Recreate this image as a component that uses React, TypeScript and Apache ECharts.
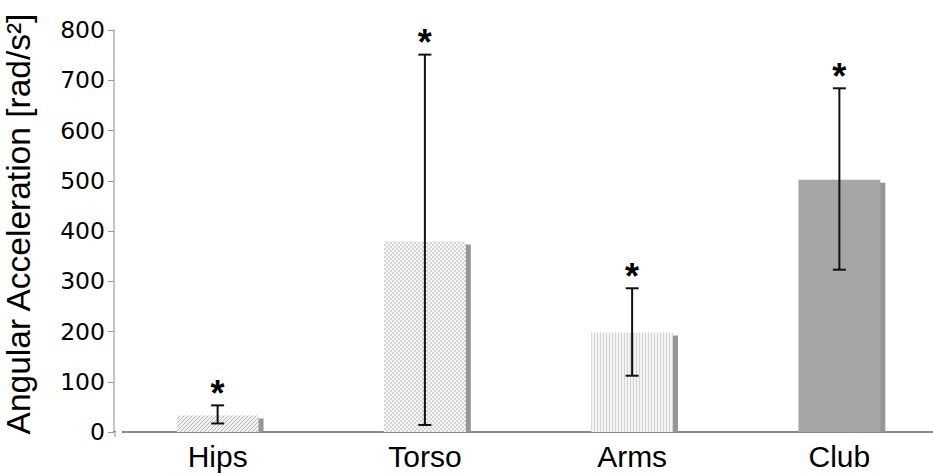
import React, { useEffect, useRef } from 'react';
import * as echarts from 'echarts';

const categories = ['Hips', 'Torso', 'Arms', 'Club'];
const meanValues = [33, 379, 198, 502];
const errorLow = [17, 14, 112, 323];
const errorHigh = [53, 751, 286, 684];
const significance = ['*', '*', '*', '*'];
const fillKinds = ['diagonal', 'checker', 'vertical', 'solid'];
const yMin = 0;
const yMax = 800;
const yInterval = 100;

function makePattern(kind: string): any {
  if (kind === 'solid') return '#a6a6a6';
  const c = document.createElement('canvas');
  if (kind === 'diagonal') {
    c.width = 4; c.height = 4;
    const g = c.getContext('2d')!;
    g.fillStyle = '#f1f1f1'; g.fillRect(0, 0, 4, 4);
    g.fillStyle = '#b8b8b8';
    for (let i = 0; i < 4; i++) g.fillRect(i, 3 - i, 1, 1);
  } else if (kind === 'checker') {
    c.width = 4; c.height = 4;
    const g = c.getContext('2d')!;
    g.fillStyle = '#f7f7f7'; g.fillRect(0, 0, 4, 4);
    g.fillStyle = '#d6d6d6';
    g.fillRect(0, 0, 2, 2); g.fillRect(2, 2, 2, 2);
  } else {
    c.width = 3; c.height = 3;
    const g = c.getContext('2d')!;
    g.fillStyle = '#f3f3f3'; g.fillRect(0, 0, 3, 3);
    g.fillStyle = '#d4d4d4'; g.fillRect(0, 0, 1, 3);
  }
  return { image: c, repeat: 'repeat', imageWidth: c.width, imageHeight: c.height };
}

export default function App() {
  const ref = useRef<HTMLDivElement>(null);
  useEffect(() => {
    const chart = echarts.init(ref.current!, null, { renderer: 'svg' });
    const fills = fillKinds.map(makePattern);
    const data = categories.map((c, i) => [i, meanValues[i], errorLow[i], errorHigh[i]]);
    chart.setOption({
      animation: false,
      backgroundColor: '#fff',
      grid: { left: 114, right: -10, top: 30, bottom: 42, containLabel: false, outerBoundsMode: 'none' },
      xAxis: {
        type: 'category',
        data: categories,
        axisLine: { show: true, lineStyle: { color: '#8a8a8a', width: 2 } },
        axisTick: { show: false },
        axisLabel: { fontFamily: 'Liberation Sans', fontSize: 30, color: '#000', margin: 9 },
        splitLine: { show: false },
      },
      yAxis: {
        type: 'value',
        min: yMin,
        max: yMax,
        interval: yInterval,
        name: 'Angular Acceleration [rad/s²]',
        nameLocation: 'middle',
        nameRotate: 90,
        nameGap: 79,
        nameTextStyle: { fontFamily: 'Liberation Sans', fontSize: 33.5, color: '#000', padding: [0, 0, 0, 14] },
        axisLine: { show: true, lineStyle: { color: '#c4c4c4', width: 2 } },
        axisTick: { show: true, length: 6, lineStyle: { color: '#999', width: 1 } },
        axisLabel: { fontFamily: 'DejaVu Sans', fontSize: 23.5, color: '#000', margin: 9 },
        splitLine: { show: false },
      },
      series: [
        {
          type: 'custom',
          clip: false,
          data,
          renderItem: (params: any, api: any) => {
            const idx = api.value(0);
            const mean = api.value(1);
            const lo = api.value(2);
            const hi = api.value(3);
            const base = api.coord([idx, 0]);
            const top = api.coord([idx, mean]);
            const pHi = api.coord([idx, hi]);
            const pLo = api.coord([idx, lo]);
            const band = api.size([1, 0])[0];
            const w = band * 0.395;
            const x0 = base[0] - w / 2;
            const h = base[1] - top[1];
            const cap = 6.5;
            return {
              type: 'group',
              children: [
                { type: 'rect', shape: { x: x0 + 5, y: top[1] + 3, width: w, height: h - 3 }, style: { fill: '#959595' } },
                { type: 'rect', shape: { x: x0, y: top[1], width: w, height: h }, style: { fill: fills[idx] } },
                { type: 'line', shape: { x1: pHi[0], y1: pHi[1], x2: pLo[0], y2: pLo[1] }, style: { stroke: '#111', lineWidth: 2 } },
                { type: 'line', shape: { x1: pHi[0] - cap, y1: pHi[1], x2: pHi[0] + cap, y2: pHi[1] }, style: { stroke: '#111', lineWidth: 2 } },
                { type: 'line', shape: { x1: pLo[0] - cap, y1: pLo[1], x2: pLo[0] + cap, y2: pLo[1] }, style: { stroke: '#111', lineWidth: 2 } },
                {
                  type: 'text',
                  style: {
                    text: significance[idx], x: pHi[0], y: pHi[1] - 12,
                    fontFamily: 'Liberation Sans', fontWeight: 'bold', fontSize: 36,
                    fill: '#000', align: 'center', verticalAlign: 'middle',
                  },
                },
              ],
            };
          },
        },
      ],
    });
    const y0 = chart.convertToPixel({ yAxisIndex: 0 }, 0) as number;
    chart.setOption({
      graphic: [
        { type: 'rect', shape: { x: 116, y: y0 - 2, width: 6, height: 4 }, style: { fill: '#fff' }, z: 100 },
        { type: 'line', shape: { x1: 115, y1: y0, x2: 115, y2: y0 + 5 }, style: { stroke: '#c4c4c4', lineWidth: 2 }, z: 100 },
      ],
    });
    return () => chart.dispose();
  }, []);
  return <div ref={ref} style={{ width: 933, height: 474, position: 'absolute', left: 0, top: 0 }} />;
}
